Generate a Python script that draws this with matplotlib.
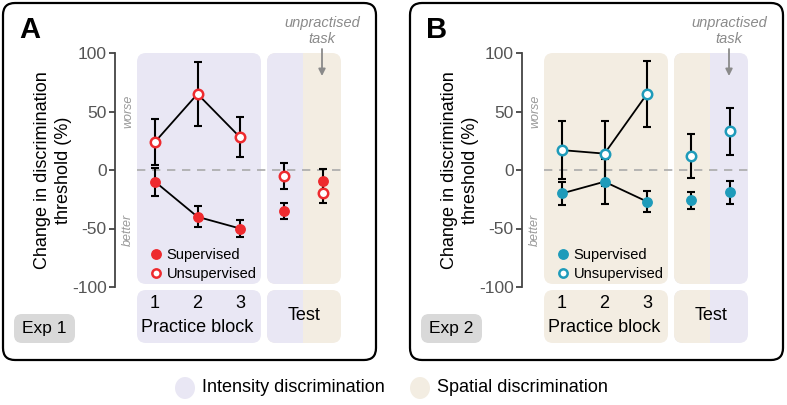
import numpy as np
import matplotlib
matplotlib.use("Agg")
import matplotlib.pyplot as plt
from matplotlib.patches import FancyBboxPatch, Rectangle, Ellipse
from matplotlib.transforms import Affine2D
from matplotlib.lines import Line2D

plt.rcParams['font.family'] = ['Liberation Sans', 'DejaVu Sans']

W, H = 787, 405
BLOCKS = [1, 2, 3]
TEST_POS = [4.03, 4.95]

# Exp 1 (panel A): practice = intensity, test = [intensity, spatial]
A_SUP = [-10, -40, -50]
A_SUP_ERR = [12, 9, 7]
A_UNS = [24, 65, 28]
A_UNS_ERR = [20, 27, 17]
A_TEST_SUP = [-35, -9]
A_TEST_SUP_ERR = [7, 10]
A_TEST_UNS = [-5, -20]
A_TEST_UNS_ERR = [11, 8]

# Exp 2 (panel B): practice = spatial, test = [spatial, intensity]
B_SUP = [-20, -10, -27]
B_SUP_ERR = [10, 19, 9]
B_UNS = [17, 14, 65]
B_UNS_ERR = [25, 28, 28]
B_TEST_SUP = [-26, -19]
B_TEST_SUP_ERR = [7, 10]
B_TEST_UNS = [12, 33]
B_TEST_UNS_ERR = [19, 20]

YTICKS = [100, 50, 0, -50, -100]
RED = "#EE2A2E"
TEAL = "#1E9BBA"
INTENSITY = "#E9E7F4"
SPATIAL = "#F3EDE2"
GRAY = "#8A8A8A"

fig = plt.figure(figsize=(W / 100, H / 100), dpi=100)
# pixel coordinates, origin top-left
T = Affine2D().scale(1, -1).translate(0, H).scale(1 / 100.) + fig.dpi_scale_trans


def rbox(x0, y0, x1, y1, color, r=9, ec="none", lw=0, z=-5):
    p = FancyBboxPatch((x0 + r, y0 + r), x1 - x0 - 2 * r, y1 - y0 - 2 * r,
                       boxstyle=f"round,pad={r},rounding_size={r}",
                       fc=color, ec=ec, lw=lw, transform=T, zorder=z)
    fig.patches.append(p)
    return p


def split_box(x0, y0, x1, y1, xs, left_c, right_c):
    base = rbox(x0, y0, x1, y1, right_c)
    cover = Rectangle((x0, y0), xs - x0, y1 - y0, fc=left_c, ec="none",
                      transform=T, zorder=-4)
    cover.set_clip_path(base)
    fig.patches.append(cover)


def panel(ox, letter, exp, col, sup, sup_e, uns, uns_e, tsup, tsup_e,
          tuns, tuns_e, prac_c, test_cols):
    # frame
    rbox(ox - 152, 3, ox + 221, 360, "none", r=12, ec="black", lw=1.6, z=-6)
    # backgrounds
    rbox(ox - 18, 53, ox + 106, 284, prac_c)
    split_box(ox + 112, 53, ox + 186, 284, ox + 148, *test_cols)
    rbox(ox - 18, 290, ox + 106, 343, prac_c)
    split_box(ox + 112, 290, ox + 186, 343, ox + 148, *test_cols)
    rbox(ox - 141, 314, ox - 80, 343, "#D9D9D9", r=8)

    ax = fig.add_axes([(ox - 40) / W, 1 - 287 / H, 230 / W, 234 / H])
    ax.set_xlim(1 - 40 / 42.5, 1 + 190 / 42.5)
    ax.set_ylim(-100, 100)
    ax.patch.set_alpha(0)
    for s in ["top", "right", "bottom"]:
        ax.spines[s].set_visible(False)
    ax.spines["left"].set_color("#444444")
    ax.spines["left"].set_linewidth(1.3)
    ax.set_xticks([])
    ax.set_yticks(YTICKS)
    ax.set_yticklabels([str(v) for v in YTICKS])
    ax.tick_params(axis="y", length=4, width=1.3, color="#444444",
                   labelcolor="#555555", labelsize=12.5, pad=2)

    x_lo = 1 - 18 / 42.5
    x_hi = 1 + 186 / 42.5
    ax.plot([x_lo, x_hi], [0, 0], ls=(0, (5, 4)), color="#AAAAAA", lw=1.2, zorder=1)

    ekw = dict(ecolor="black", elinewidth=1.5, capsize=3, capthick=1.5,
               ls="none", zorder=2)
    ax.errorbar(BLOCKS, uns, yerr=uns_e, **ekw)
    ax.errorbar(BLOCKS, sup, yerr=sup_e, **ekw)
    ax.errorbar(TEST_POS, tuns, yerr=tuns_e, **ekw)
    ax.errorbar(TEST_POS, tsup, yerr=tsup_e, **ekw)
    ax.plot(BLOCKS, uns, color="black", lw=1.3, zorder=3)
    ax.plot(BLOCKS, sup, color="black", lw=1.3, zorder=3)
    mk = dict(ls="none", marker="o", ms=6.8, zorder=4, clip_on=False)
    ax.plot(BLOCKS + TEST_POS, sup + tsup, mfc=col, mec=col, **mk)
    ax.plot(BLOCKS + TEST_POS, uns + tuns, mfc="white", mec=col, mew=1.8, **mk)

    handles = [Line2D([], [], marker="o", ls="none", ms=6.8, mfc=col, mec=col),
               Line2D([], [], marker="o", ls="none", ms=6, mfc="white",
                      mec=col, mew=1.8)]
    ax.legend(handles, ["Supervised", "Unsupervised"], frameon=False,
              loc="upper left", bbox_to_anchor=(26 / 230, 1 - (242 - 53) / 234),
              fontsize=10.5, handletextpad=0.15, labelspacing=0.35,
              borderaxespad=0, handlelength=1.2)

    # texts
    fig.text(ox - 125, 30, letter, transform=T, fontsize=21, fontweight="bold",
             ha="center", va="center")
    fig.text(ox - 102, 170, "Change in discrimination\nthreshold (%)", transform=T,
             rotation=90, fontsize=13, ha="center", va="center", linespacing=1.3)
    fig.text(ox - 27, 111, "worse", transform=T, rotation=90, style="italic",
             color="#999999", fontsize=9, ha="center", va="center")
    fig.text(ox - 27, 230, "better", transform=T, rotation=90, style="italic",
             color="#999999", fontsize=9, ha="center", va="center")
    fig.text(ox + 167, 31, "unpractised\ntask", transform=T, style="italic",
             color=GRAY, fontsize=10.5, ha="center", va="center", linespacing=1.2)
    ax.annotate("", xy=(ox + 167, H - 76), xytext=(ox + 167, H - 49),
                xycoords="figure pixels", textcoords="figure pixels",
                arrowprops=dict(arrowstyle="-|>", color=GRAY, lw=1.3,
                                mutation_scale=10, shrinkA=0, shrinkB=0))
    for b in BLOCKS:
        fig.text(ox + (b - 1) * 42.5, 304, str(b), transform=T, fontsize=13,
                 ha="center", va="center")
    fig.text(ox + 42.5, 328, "Practice block", transform=T, fontsize=13,
             ha="center", va="center")
    fig.text(ox + 149, 315, "Test", transform=T, fontsize=13,
             ha="center", va="center")
    fig.text(ox - 110.5, 328.5, exp, transform=T, fontsize=12.5,
             ha="center", va="center")


panel(155, "A", "Exp 1", RED, A_SUP, A_SUP_ERR, A_UNS, A_UNS_ERR,
      A_TEST_SUP, A_TEST_SUP_ERR, A_TEST_UNS, A_TEST_UNS_ERR,
      INTENSITY, (INTENSITY, SPATIAL))
panel(562, "B", "Exp 2", TEAL, B_SUP, B_SUP_ERR, B_UNS, B_UNS_ERR,
      B_TEST_SUP, B_TEST_SUP_ERR, B_TEST_UNS, B_TEST_UNS_ERR,
      SPATIAL, (SPATIAL, INTENSITY))

# bottom legend
for cx, c, lab in [(185, INTENSITY, "Intensity discrimination"),
                   (420, SPATIAL, "Spatial discrimination")]:
    fig.patches.append(Ellipse((cx, 388), 20, 22, fc=c, ec="none", transform=T))
    fig.text(cx + 17, 388, lab, transform=T, fontsize=13, ha="left", va="center")

fig.savefig("out.png", dpi=100)
